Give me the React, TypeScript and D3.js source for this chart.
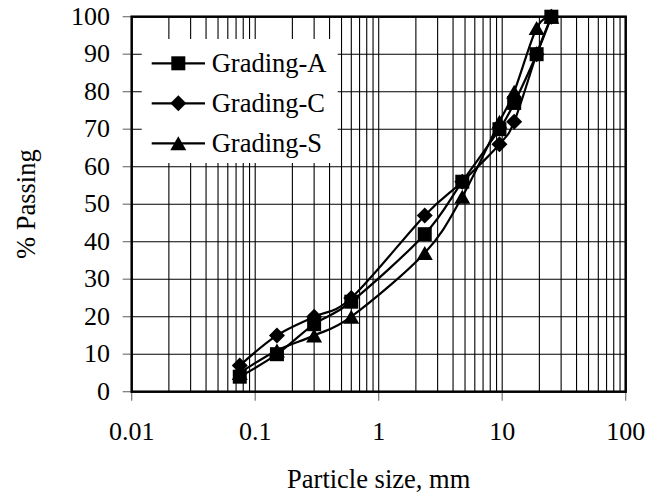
import React from 'react';
import * as d3 from 'd3';

// sieve sizes (mm) and % passing for each grading
const sieves = [0.075, 0.15, 0.3, 0.6, 2.36, 4.75, 9.5, 12.5, 19, 25];
const gradingA = [4, 10, 18, 24, 42, 56, 70, 77, 90, 100];
const gradingC = [7, 15, 20, 25, 47, 56, 66, 72, 90, 100];
const gradingS = [5, 11, 15, 20, 37, 52, 72, 80, 97, 100];

const xTicks = [0.01, 0.1, 1, 10, 100];
const yTicks = [0, 10, 20, 30, 40, 50, 60, 70, 80, 90, 100];

const seriesNames = ['Grading-A', 'Grading-C', 'Grading-S'];

const W = 662;
const H = 496;
const plot = { left: 131.7, right: 625.7, top: 16.7, bottom: 391.7 };
const font = '"Liberation Serif", "Times New Roman", serif';

const marker = (kind: string, cx: number, cy: number) => {
  if (kind === 'square') {
    const s = 7;
    return `M${cx - s},${cy - s}H${cx + s}V${cy + s}H${cx - s}Z`;
  }
  if (kind === 'diamond') {
    const s = 8;
    return `M${cx},${cy - s}L${cx + s},${cy}L${cx},${cy + s}L${cx - s},${cy}Z`;
  }
  const w = 8;
  const h = 7;
  return `M${cx},${cy - h}L${cx + w},${cy + h}L${cx - w},${cy + h}Z`;
};

export default function App() {
  const x = d3.scaleLog().domain([0.01, 100]).range([plot.left, plot.right]);
  const y = d3.scaleLinear().domain([0, 100]).range([plot.bottom, plot.top]);

  // minor log gridlines: 1..9 in every decade
  const vGrid: number[] = [];
  for (let d = -2; d < 2; d++) {
    for (let m = 1; m <= 9; m++) {
      const v = m * Math.pow(10, d);
      if (v > 0.01) vGrid.push(v);
    }
  }

  const line = d3
    .line<[number, number]>()
    .x((d) => x(d[0]))
    .y((d) => y(d[1]))
    .curve(d3.curveCardinal.tension(0));

  const series = [
    { name: seriesNames[2], values: gradingS, kind: 'triangle' },
    { name: seriesNames[1], values: gradingC, kind: 'diamond' },
    { name: seriesNames[0], values: gradingA, kind: 'square' },
  ];

  const legendItems = [
    { name: seriesNames[0], kind: 'square' },
    { name: seriesNames[1], kind: 'diamond' },
    { name: seriesNames[2], kind: 'triangle' },
  ];

  return (
    <svg
      width={W}
      height={H}
      style={{ position: 'absolute', left: 0, top: 0, background: '#fff' }}
      fontFamily={font}
    >
      <rect width={W} height={H} fill="#fff" />
      {/* gridlines */}
      <g stroke="#000" strokeWidth={1.1}>
        {vGrid.map((v, i) => (
          <line key={'v' + i} x1={x(v)} x2={x(v)} y1={plot.top} y2={plot.bottom} />
        ))}
        {yTicks.slice(1, -1).map((v) => (
          <line key={'h' + v} x1={plot.left} x2={plot.right} y1={y(v)} y2={y(v)} />
        ))}
      </g>
      {/* ticks */}
      <g stroke="#777" strokeWidth={1.2}>
        {yTicks.map((v) => (
          <line key={'yt' + v} x1={plot.left - 9} x2={plot.left} y1={y(v)} y2={y(v)} />
        ))}
        {xTicks.map((v) => (
          <line key={'xt' + v} x1={x(v)} x2={x(v)} y1={plot.bottom} y2={plot.bottom + 9} />
        ))}
      </g>
      {/* frame */}
      <rect
        x={plot.left}
        y={plot.top}
        width={plot.right - plot.left}
        height={plot.bottom - plot.top}
        fill="none"
        stroke="#000"
        strokeWidth={2.5}
      />
      {/* tick labels */}
      <g fontSize={26} fill="#000">
        {yTicks.map((v) => (
          <text key={'yl' + v} x={110} y={y(v)} dy="0.3em" textAnchor="end">
            {v}
          </text>
        ))}
        {xTicks.map((v) => (
          <text key={'xl' + v} x={x(v)} y={439.5} textAnchor="middle">
            {v}
          </text>
        ))}
      </g>
      {/* axis titles */}
      <text x={(plot.left + plot.right) / 2} y={487.5} textAnchor="middle" fontSize={26.5}>
        Particle size, mm
      </text>
      <text
        transform={`translate(35,${(plot.top + plot.bottom) / 2}) rotate(-90)`}
        textAnchor="middle"
        fontSize={26.5}
      >
        % Passing
      </text>
      {/* series */}
      {series.map((s) => {
        const pts = sieves.map((v, i) => [v, s.values[i]] as [number, number]);
        return (
          <g key={s.name}>
            <path d={line(pts) || ''} fill="none" stroke="#000" strokeWidth={2.2} />
            {pts.map((p, i) => (
              <path key={i} d={marker(s.kind, x(p[0]), y(p[1]))} fill="#000" />
            ))}
          </g>
        );
      })}
      {/* legend */}
      <rect x={141.7} y={39} width={196} height={124} fill="#fff" />
      {legendItems.map((d, i) => {
        const cy = 63.3 + i * 40;
        return (
          <g key={d.name}>
            <line x1={151.7} x2={205} y1={cy} y2={cy} stroke="#000" strokeWidth={2.2} />
            <path d={marker(d.kind, 178.3, cy)} fill="#000" />
            <text x={211.7} y={cy} dy="0.33em" fontSize={26.5}>
              {d.name}
            </text>
          </g>
        );
      })}
    </svg>
  );
}
